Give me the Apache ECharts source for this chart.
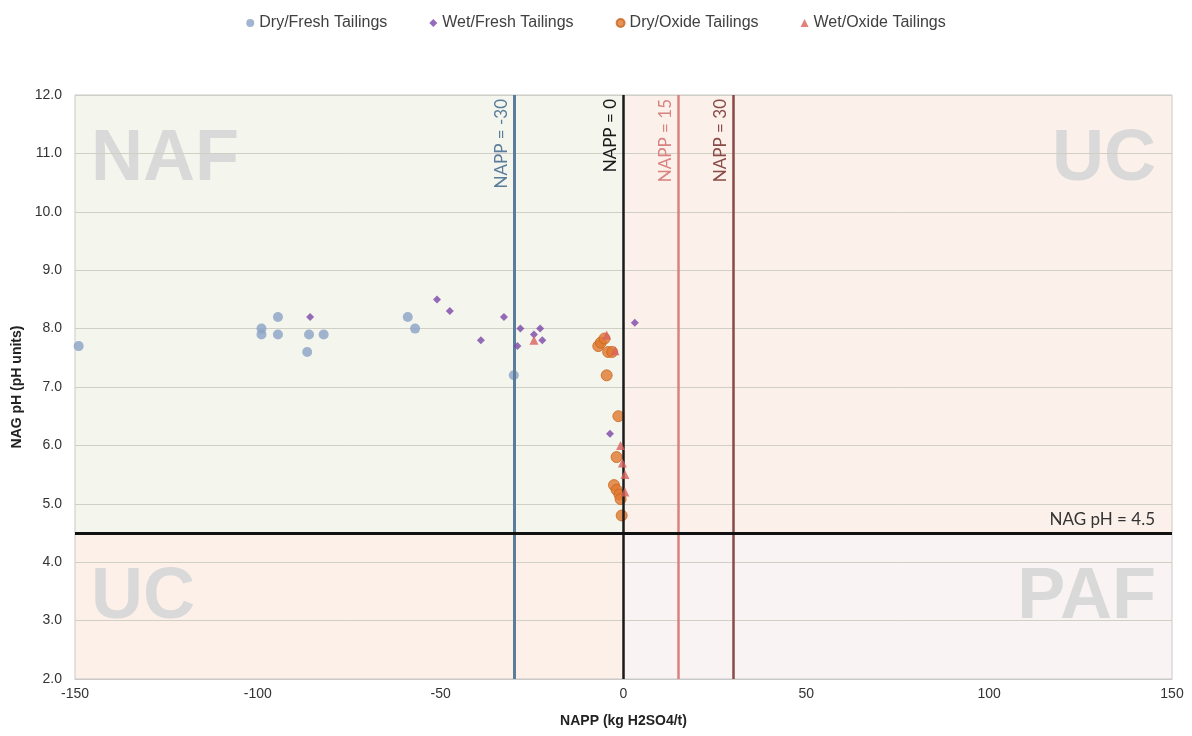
<!DOCTYPE html>
<html>
<head>
<meta charset="utf-8">
<script src="https://cdn.jsdelivr.net/npm/echarts@6/dist/echarts.min.js"></script>
<style>
  html, body { margin: 0; padding: 0; background: #ffffff; }
  #chart { width: 1192px; height: 736px; }
</style>
</head>
<body>
<div id="chart"></div>
<script>
// NAPP (kg H2SO4/t) vs NAG pH for tailings samples
const dryFresh = [
  [-149, 7.7], [-99, 8.0], [-99, 7.9], [-94.5, 8.2], [-94.5, 7.9],
  [-86.5, 7.6], [-86, 7.9], [-82, 7.9], [-59, 8.2], [-57, 8.0], [-30, 7.2]
];
const wetFresh = [
  [-85.7, 8.2], [-51, 8.5], [-47.5, 8.3], [-39, 7.8], [-32.7, 8.2],
  [-28.2, 8.0], [-29, 7.7], [-24.5, 7.9], [-22.8, 8.0], [-22.2, 7.8],
  [3.1, 8.1], [-3.7, 6.2]
];
const dryOxide = [
  [-6.9, 7.7], [-6.2, 7.76], [-5.2, 7.83], [-4.2, 7.6], [-3.1, 7.6],
  [-4.6, 7.2], [-1.4, 6.5], [-1.9, 5.8], [-2.6, 5.32], [-1.9, 5.24],
  [-1.1, 5.16], [-0.8, 5.08], [-0.5, 4.8]
];
const wetOxide = [
  [-24.5, 7.8], [-4.6, 7.89], [-2.3, 7.62], [-0.8, 6.0], [-0.3, 5.7],
  [0.4, 5.5], [0.4, 5.2]
];

// Classification thresholds
const nappLines = [-30, 0, 15, 30];
const nappLineColors = ['#5a7d9c', '#1a1a1a', '#d9827f', '#8a4a47'];
const nagPhLimit = 4.5;

const xRange = [-150, 150];
const yRange = [2, 12];

const seriesNames = ['Dry/Fresh Tailings', 'Wet/Fresh Tailings', 'Dry/Oxide Tailings', 'Wet/Oxide Tailings'];

const zoneLabel = (text, pos) => ({
  show: true,
  formatter: text,
  position: pos,
  distance: 16,
  offset: [0, 13],
  color: '#d9d9d9',
  fontFamily: 'Liberation Sans, Arial, sans-serif',
  fontWeight: 'bold',
  fontSize: 72
});

const chart = echarts.init(document.getElementById('chart'), null, { renderer: 'canvas' });

chart.setOption({
  animation: false,
  backgroundColor: '#ffffff',
  textStyle: { fontFamily: 'Liberation Sans, Arial, sans-serif' },
  legend: {
    data: seriesNames,
    top: 10,
    left: 'center',
    itemGap: 42,
    itemWidth: 8,
    itemHeight: 8,
    textStyle: { fontSize: 16, color: '#404040' }
  },
  grid: {
    left: 75, right: 20, top: 95, bottom: 57,
    show: true, borderColor: '#c9c9c9', borderWidth: 1,
    backgroundColor: 'transparent', z: 2
  },
  xAxis: {
    type: 'value',
    min: xRange[0], max: xRange[1], interval: 50,
    name: 'NAPP (kg H2SO4/t)',
    nameLocation: 'middle', nameGap: 35,
    nameTextStyle: { fontSize: 14, fontWeight: 'bold', color: '#222' },
    axisLine: { show: true, lineStyle: { color: '#c9c9c9' } },
    axisTick: { show: false },
    axisLabel: { fontSize: 14, color: '#333', margin: 8 },
    splitLine: { show: false },
    z: 2
  },
  yAxis: {
    type: 'value',
    min: yRange[0], max: yRange[1], interval: 1,
    name: 'NAG pH (pH units)',
    nameLocation: 'middle', nameGap: 49,
    nameTextStyle: { fontSize: 14, fontWeight: 'bold', color: '#222' },
    axisLine: { show: true, lineStyle: { color: '#c9c9c9' } },
    axisTick: { show: false },
    axisLabel: { fontSize: 14, color: '#333', margin: 13, formatter: v => v.toFixed(1) },
    splitLine: { show: true, lineStyle: { color: '#cfcfc6', width: 1 } },
    z: 2
  },
  series: [
    {
      // classification zones
      name: 'zones', type: 'scatter', data: [], z: 1, silent: true,
      markArea: {
        silent: true,
        data: [
          [{ xAxis: xRange[0], yAxis: nagPhLimit, itemStyle: { color: '#f4f5ed' }, label: zoneLabel('NAF', 'insideTopLeft') },
           { xAxis: 0, yAxis: yRange[1] }],
          [{ xAxis: 0, yAxis: nagPhLimit, itemStyle: { color: '#fcf1ea' }, label: zoneLabel('UC', 'insideTopRight') },
           { xAxis: xRange[1], yAxis: yRange[1] }],
          [{ xAxis: xRange[0], yAxis: yRange[0], itemStyle: { color: '#fcf0e8' }, label: zoneLabel('UC', 'insideTopLeft') },
           { xAxis: 0, yAxis: nagPhLimit }],
          [{ xAxis: 0, yAxis: yRange[0], itemStyle: { color: '#f9f3f3' }, label: zoneLabel('PAF', 'insideTopRight') },
           { xAxis: xRange[1], yAxis: nagPhLimit }]
        ]
      }
    },
    {
      // threshold lines
      name: 'thresholds', type: 'scatter', data: [], z: 3, silent: true,
      markLine: {
        silent: true,
        symbol: 'none',
        label: { fontFamily: 'Lato, sans-serif', fontSize: 17 },
        data: nappLines.map((v, i) => ({
          xAxis: v,
          lineStyle: { color: nappLineColors[i], width: i === 0 ? 3 : 2.5, type: 'solid' },
          label: { show: true, formatter: 'NAPP = ' + v, position: 'insideEndTop', color: nappLineColors[i], distance: 4 }
        })).concat([{
          yAxis: nagPhLimit,
          lineStyle: { color: '#111111', width: 3, type: 'solid' },
          label: {
            show: true, formatter: 'NAG pH = ' + nagPhLimit, position: 'insideEndTop',
            color: '#333', distance: 5, padding: [0, 12, 0, 0]
          }
        }])
      }
    },
    {
      name: seriesNames[0], type: 'scatter', data: dryFresh, z: 4,
      symbol: 'circle', symbolSize: 10,
      itemStyle: { color: '#8aa2c5' }
    },
    {
      name: seriesNames[1], type: 'scatter', data: wetFresh, z: 5,
      symbol: 'diamond', symbolSize: 8,
      itemStyle: { color: '#7a47a8' }
    },
    {
      name: seriesNames[2], type: 'scatter', data: dryOxide, z: 4,
      symbol: 'circle', symbolSize: 11,
      itemStyle: { color: '#e0782e', borderColor: '#c8651f', borderWidth: 1 }
    },
    {
      name: seriesNames[3], type: 'scatter', data: wetOxide, z: 5,
      symbol: 'triangle', symbolSize: 9,
      itemStyle: { color: '#d8625e' }
    }
  ]
});
</script>
</body>
</html>
